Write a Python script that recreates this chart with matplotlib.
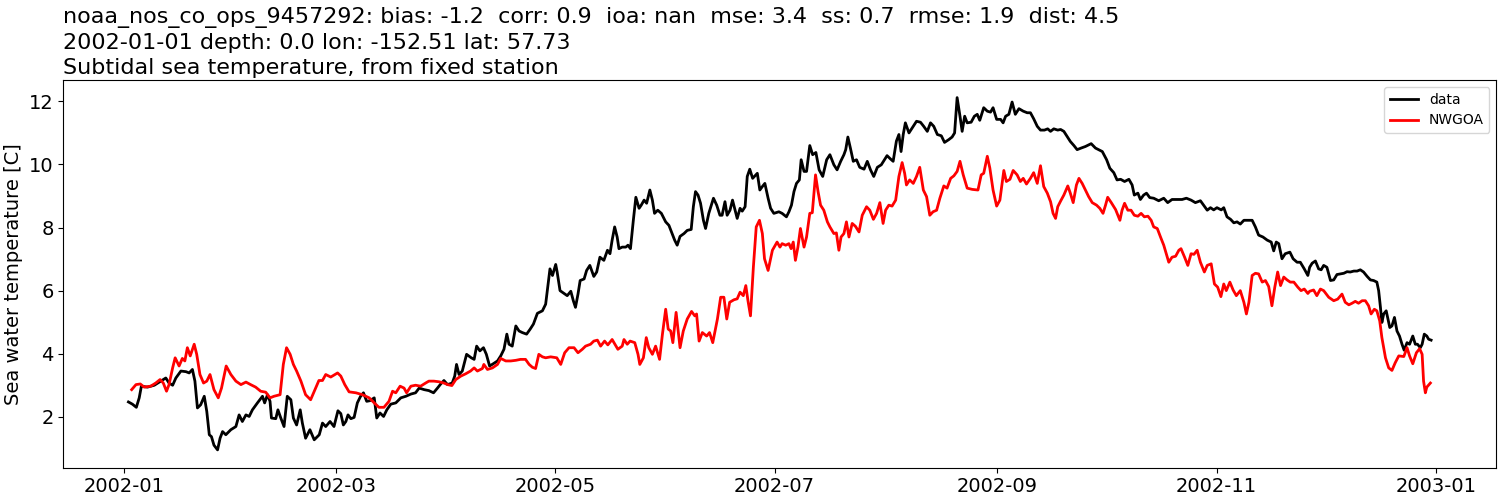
import matplotlib
matplotlib.use("Agg")
import matplotlib.pyplot as plt
import matplotlib.dates as mdates
import numpy as np
import pandas as pd

# station info for the title
station = "noaa_nos_co_ops_9457292"
stats_txt = "bias: -1.2  corr: 0.9  ioa: nan  mse: 3.4  ss: 0.7  rmse: 1.9  dist: 4.5"
info_txt = "2002-01-01 depth: 0.0 lon: -152.51 lat: 57.73"
long_name = "Subtidal sea temperature, from fixed station"
start = "2002-01-01"

# observed (days since start, temperature C)
data_days = [1.2, 2.3, 3.4, 4.2, 4.8, 6.5, 8.4, 10.2, 11.6, 12.5, 13.5, 14.4, 15.8, 17.2, 18.1, 19.0,
             19.7, 20.4, 21.3, 22.3, 23.0, 23.7, 24.3, 25.0, 26.0, 26.7, 27.4, 28.3, 29.7, 31.1, 32.0,
             32.9, 33.9, 34.8, 35.7, 37.1, 38.5, 39.1, 39.9, 40.6, 41.0, 42.2, 42.8, 43.6, 44.5, 45.4,
             46.4, 47.1, 48.0, 49.0, 49.6, 50.5, 51.7, 52.9, 54.3, 55.2, 56.1, 57.3, 58.4, 59.5,
             60.3, 61.0, 61.7, 62.3, 63.1, 64.0, 64.9, 65.8, 66.6, 67.5, 68.4, 69.6, 70.3, 71.2, 72.2,
             73.1, 74.2, 75.6, 77.0, 78.4, 79.8, 81.1, 82.1, 83.5, 84.8, 86.1, 87.2, 88.1, 89.0, 90.0,
             91.3, 92.0, 92.5, 93.2, 94.1, 95.3, 96.6, 97.4, 98.1, 99.0, 100.0, 100.8, 101.7, 102.7,
             103.9, 104.8, 105.7, 106.5, 107.1, 108.0, 109.0, 109.9, 110.8, 112.0, 113.0, 113.9, 115.0,
             116.4, 117.3, 118.0, 118.5, 119.2, 120.1, 120.5, 121.3, 122.4, 123.3, 124.3, 125.0, 125.6,
             126.3, 126.9, 128.0, 128.7, 129.6, 130.7, 131.5, 132.4, 133.5, 134.5, 135.2, 135.8, 136.5,
             137.2, 137.7, 138.6, 139.6, 140.2, 140.9, 141.7, 142.4, 143.3, 143.9, 144.7, 145.4, 146.3,
             147.0, 147.6, 148.5, 149.5, 150.7, 151.6, 152.5, 153.2, 153.9, 154.7, 155.8, 156.7, 157.8,
             158.4, 159.0, 159.7, 160.4, 161.2, 161.8, 162.7, 164.0, 164.9, 165.8, 166.4, 167.2, 167.8,
             168.6, 169.3, 170.0, 170.6, 171.4, 172.0, 172.8, 173.4, 174.1, 174.9, 175.4, 176.2, 176.9,
             177.6, 178.3, 179.2, 179.9, 180.8, 182.2, 183.1, 184.3, 185.0, 185.7, 186.4, 187.1, 187.9,
             188.4, 189.2, 189.9, 190.8, 191.6, 192.5, 193.4, 194.4, 195.5, 196.4, 197.5, 198.4, 199.4,
             200.3, 200.8, 201.4, 202.1, 202.9, 203.8, 204.7, 205.9, 206.8, 207.7, 208.6, 209.6, 210.7,
             211.6, 212.3, 213.3, 214.0, 214.9, 215.6, 216.2, 216.8, 217.4, 218.4, 219.3, 220.5, 221.6,
             222.5, 223.5, 224.4, 225.3, 226.3, 227.4, 228.3, 229.5, 230.4, 231.1, 231.8, 232.6, 233.2,
             233.9, 234.6, 235.7, 236.6, 237.4, 238.1, 239.2, 240.2, 241.1, 241.8, 242.8, 243.9, 244.6,
             245.3, 246.2, 247.1, 248.0, 249.0, 250.2, 251.3, 252.2, 253.1, 254.1, 255.0, 256.1, 257.0,
             257.8, 258.7, 259.8, 260.6, 261.5, 262.4, 263.3, 264.3, 265.2, 266.3, 267.5, 269.1, 270.3,
             272.2, 273.4, 274.3, 275.4, 276.3, 277.3, 278.4, 279.6, 280.5, 281.1, 282.1, 282.8, 283.7,
             284.5, 285.4, 286.5, 287.9, 289.3, 290.4, 291.6, 293.0, 294.4, 295.6, 296.9, 298.1, 299.5,
             300.4, 301.4, 302.3, 303.2, 304.1, 305.3, 306.0, 306.9, 307.9, 308.8, 309.7, 310.6, 311.6,
             312.7, 313.9, 314.8, 315.7, 316.9, 318.1, 319.2, 319.9, 320.6, 321.3, 322.2, 323.1, 324.4,
             325.3, 326.4, 327.3, 328.4, 329.4, 329.9, 330.6, 331.5, 332.4, 333.1, 333.8, 334.7, 335.7,
             336.6, 337.5, 338.4, 339.4, 340.3, 341.2, 342.2, 343.1, 344.0, 344.9, 345.9, 346.8, 347.7,
             348.6, 349.1, 349.6, 350.0, 350.5, 351.2, 352.2, 352.8, 353.5, 354.2, 354.9, 355.6, 356.2,
             357.0, 357.7, 358.6, 359.3, 359.9, 360.7, 361.2, 361.8, 362.5, 363.0, 363.7]
data_vals = [2.47, 2.40, 2.30, 2.6, 2.97, 2.94, 3.0, 3.13, 3.23, 3.07, 3.0, 3.23, 3.45, 3.43, 3.39, 3.5,
             3.13, 2.28, 2.38, 2.65, 2.17, 1.43, 1.37, 1.1, 0.95, 1.32, 1.53, 1.43, 1.59, 1.69, 2.06,
             1.85, 2.06, 2.01, 2.22, 2.44, 2.65, 2.44, 2.7, 2.49, 1.96, 1.94, 2.22, 1.96, 1.69, 2.65,
             2.54, 1.96, 1.74, 2.22, 1.8, 1.32, 1.59, 1.27, 1.43, 1.8, 1.69, 1.85, 1.69, 2.19,
             2.1, 1.74, 1.85, 2.06, 1.94, 1.98, 2.44, 2.65, 2.76, 2.49, 2.51, 2.60, 1.96, 2.12, 2.01,
             2.22, 2.40, 2.44, 2.60, 2.65, 2.72, 2.76, 2.91, 2.86, 2.83, 2.76, 2.91, 3.04, 3.15, 3.02,
             3.07, 3.29, 3.66, 3.34, 3.45, 3.98, 3.87, 3.82, 4.24, 4.09, 4.19, 3.98, 3.61, 3.68,
             3.77, 3.93, 4.14, 4.62, 4.30, 4.24, 4.88, 4.72, 4.67, 4.62, 4.78, 4.94, 5.28,
             5.36, 5.57, 6.21, 6.69, 6.48, 6.83, 6.59, 6.0, 5.91, 5.84, 5.98, 5.68, 5.47,
             5.89, 6.32, 6.37, 6.64, 6.80, 6.45, 6.59, 7.06, 6.96, 7.28, 7.17, 7.60, 8.02,
             7.70, 7.33, 7.38, 7.38, 7.44, 7.33, 8.23, 8.96, 8.61, 8.71, 8.87, 8.77, 9.19,
             8.87, 8.45, 8.55, 8.45, 8.18, 8.07, 7.81, 7.60, 7.44, 7.72, 7.81, 7.91, 7.94,
             8.66, 9.14, 9.03, 8.77, 8.23, 7.97, 8.45, 8.93, 8.71, 8.39, 8.39, 8.82, 8.39,
             8.55, 8.87, 8.55, 8.29, 8.61, 8.52, 8.66, 9.62, 9.85, 9.56, 9.62, 9.72, 9.19,
             9.30, 9.40, 8.93, 8.61, 8.45, 8.50, 8.45, 8.34, 8.50, 8.71, 9.14, 9.40, 9.51,
             10.15, 9.78, 9.78, 10.60, 10.31, 10.38, 9.83, 9.62, 10.15, 10.31, 9.99, 9.83, 10.10,
             10.31, 10.47, 10.87, 10.52, 10.10, 10.15, 9.91, 9.85, 10.10, 9.83, 9.62, 9.91, 9.99,
             10.15, 10.28, 10.17, 10.10, 10.74, 10.95, 10.41, 10.95, 11.32, 11.0, 11.16, 11.37, 11.34,
             11.21, 11.05, 11.32, 11.21, 10.95, 10.91, 10.70, 10.79, 10.87, 11.0, 12.12, 11.53, 11.05,
             11.53, 11.32, 11.34, 11.53, 11.59, 11.40, 11.80, 11.69, 11.66, 11.80, 11.43, 11.43, 11.32,
             11.53, 11.59, 11.98, 11.59, 11.77, 11.69, 11.64, 11.64, 11.45, 11.21, 11.09, 11.09, 11.13,
             11.05, 11.13, 11.09, 11.11, 11.05, 10.89, 10.73, 10.60, 10.47, 10.52, 10.57, 10.66, 10.52,
             10.41, 10.15, 9.88, 9.74, 9.51, 9.53, 9.46, 9.53, 9.35, 9.03, 9.09, 8.89, 9.03,
             9.09, 8.95, 8.93, 8.85, 8.93, 8.79, 8.89, 8.89, 8.89, 8.93, 8.87, 8.79, 8.85,
             8.71, 8.55, 8.63, 8.56, 8.63, 8.56, 8.63, 8.34, 8.26, 8.15, 8.18, 8.11, 8.23,
             8.23, 8.23, 8.02, 7.76, 7.70, 7.60, 7.54, 7.26, 7.54, 7.49, 7.01, 7.17, 7.22,
             7.01, 6.90, 6.90, 6.69, 6.48, 6.74, 6.87, 6.94, 6.69, 6.66, 6.80, 6.74, 6.32,
             6.34, 6.51, 6.53, 6.55, 6.60, 6.59, 6.62, 6.62, 6.66, 6.59, 6.45, 6.34, 6.32,
             6.27, 6.0, 5.47, 4.99, 5.26, 5.36, 4.83, 4.88, 5.15, 4.72, 4.56, 4.30, 4.11,
             4.35, 4.30, 4.56, 4.30, 4.30, 4.19, 4.30, 4.62, 4.56, 4.46, 4.43]

# NWGOA model (days since start, temperature C)
model_days = [2.1, 3.3, 4.5, 5.6, 7.4, 8.8, 10.0, 10.9, 11.8, 12.5, 13.5, 14.2, 15.3, 16.2, 16.9, 17.6,
              18.4, 19.5, 20.2, 21.1, 22.1, 23.0, 23.9, 25.0, 26.2, 27.1, 28.4, 29.7, 31.1, 32.5, 33.9,
              35.2, 36.6, 38.0, 39.4, 40.6, 41.7, 43.4, 44.3, 45.2, 46.2, 47.1, 48.0, 49.2, 50.5, 51.9,
              53.3, 54.2, 55.2, 56.1, 57.5, 59.4, 60.3, 61.4, 62.6, 64.5, 66.3, 68.2, 69.6, 70.9, 72.3,
              73.7, 74.7, 75.6, 76.8, 77.9, 78.6, 79.8, 81.1, 82.5, 83.9, 84.8, 86.2, 87.6, 89.0, 90.0,
              91.2, 92.3, 93.7, 95.0, 96.4, 97.4, 98.3, 99.7, 100.1, 101.1, 102.5, 103.9, 104.8, 106.2,
              107.6, 109.0, 110.3, 111.7, 112.7, 113.6, 114.5, 115.4, 116.4, 117.3, 118.7, 120.4, 121.5,
              122.6, 123.8, 125.2, 126.3, 127.5, 128.4, 129.8, 130.7, 131.7, 132.6, 133.7, 134.6, 135.8,
              137.4, 138.6, 139.1, 140.0, 140.8, 142.1, 143.0, 143.5, 144.5, 145.3, 146.0, 147.0, 147.9,
              149.0, 149.8, 150.7, 151.4, 152.1, 152.7, 153.6, 154.7, 155.6, 156.7, 157.9, 158.8, 159.3,
              160.0, 160.9, 162.1, 162.9, 163.8, 165.1, 166.0, 166.9, 167.7, 168.5, 169.7, 170.6, 171.4,
              172.3, 173.0, 173.6, 174.3, 175.1, 175.9, 176.8, 177.6, 178.2, 179.2, 180.4, 181.7, 182.5,
              183.1, 184.1, 185.0, 185.6, 186.2, 186.8, 187.5, 188.2, 189.2, 189.9, 190.8, 191.5, 192.4,
              193.1, 193.8, 194.7, 195.7, 196.4, 197.5, 198.2, 198.9, 199.5, 200.3, 201.0, 201.7, 202.6,
              203.5, 204.5, 205.4, 206.6, 207.5, 208.5, 209.4, 210.3, 211.2, 211.9, 212.8, 213.7, 214.7,
              215.6, 216.5, 217.2, 217.7, 218.6, 219.6, 220.5, 221.4, 222.4, 223.3, 224.2, 225.1, 226.1,
              227.0, 228.1, 229.0, 230.0, 230.9, 231.8, 232.6, 233.5, 234.6, 236.0, 237.6, 238.5, 239.2,
              240.2, 240.9, 241.8, 242.8, 243.7, 244.8, 245.5, 246.5, 247.4, 248.5, 249.4, 250.2, 251.1,
              252.2, 253.1, 254.1, 255.0, 255.9, 256.9, 257.8, 258.5, 259.2, 259.8, 260.6, 261.5, 262.6,
              263.3, 264.1, 265.0, 265.7, 266.6, 267.5, 268.4, 269.4, 270.6, 271.5, 272.4, 273.1, 273.7,
              274.7, 275.9, 277.1, 277.7, 278.4, 279.3, 280.2, 281.1, 282.1, 283.0, 283.9, 284.9, 285.8,
              286.5, 287.5, 288.4, 289.3, 290.0, 290.7, 291.6, 292.6, 293.5, 294.1, 295.1, 296.0, 296.9,
              297.7, 298.6, 299.5, 300.6, 301.4, 302.5, 303.4, 304.3, 305.2, 306.0, 306.7, 307.7, 308.6,
              309.5, 310.6, 311.6, 312.3, 313.0, 313.9, 314.8, 315.7, 316.7, 317.6, 318.5, 319.4, 320.2,
              321.0, 321.8, 322.7, 323.6, 324.5, 325.5, 326.6, 327.5, 328.4, 329.4, 329.9, 331.0, 331.9,
              332.9, 333.8, 335.2, 336.6, 337.7, 338.9, 339.8, 340.8, 341.7, 342.6, 343.5, 344.5, 345.4,
              346.3, 347.0, 347.9, 348.6, 349.4, 350.0, 351.0, 351.9, 352.8, 353.7, 354.7, 356.1, 357.0,
              357.7, 358.6, 359.6, 360.5, 361.2, 361.6, 362.1, 362.5, 363.5]
model_vals = [2.86, 3.02, 3.04, 2.94, 2.97, 3.07, 3.18, 3.07, 2.81, 3.02, 3.55, 3.87, 3.61, 3.85, 3.77, 4.19,
              3.93, 4.30, 3.98, 3.34, 3.07, 3.13, 3.34, 2.86, 2.6, 2.91, 3.61, 3.34, 3.13, 3.02, 3.10,
              3.02, 2.94, 2.81, 2.78, 2.6, 2.65, 2.70, 3.66, 4.19, 3.98, 3.66, 3.45, 3.13, 2.7, 2.54,
              2.91, 3.15, 3.15, 3.34, 3.26, 3.39, 3.29, 3.02, 2.79, 2.76, 2.70, 2.60, 2.44, 2.30, 2.30,
              2.49, 2.81, 2.76, 2.97, 2.91, 2.76, 2.97, 3.0, 2.97, 3.07, 3.13, 3.13, 3.11, 3.07, 3.02,
              2.99, 3.18, 3.29, 3.36, 3.45, 3.55, 3.45, 3.53, 3.66, 3.50, 3.55, 3.66, 3.85, 3.77,
              3.77, 3.79, 3.82, 3.82, 3.66, 3.57, 3.53, 3.98, 3.90, 3.87, 3.90, 3.87, 3.66,
              4.03, 4.19, 4.19, 4.03, 4.14, 4.24, 4.30, 4.40, 4.43, 4.24, 4.40, 4.28, 4.45,
              4.14, 4.24, 4.45, 4.30, 4.40, 4.35, 3.98, 3.66, 3.87, 4.51, 4.19, 3.98, 4.24,
              3.82, 4.62, 5.41, 4.78, 4.72, 4.35, 5.31, 4.19, 4.72, 5.10, 5.34, 5.20, 5.26,
              4.40, 4.67, 4.56, 4.67, 4.35, 5.10, 5.79, 5.79, 5.10, 5.63, 5.71, 5.74, 5.95,
              5.84, 6.16, 5.68, 5.20, 6.74, 8.02, 8.23, 7.81, 7.01, 6.64, 7.28, 7.54, 7.38,
              7.49, 7.44, 7.49, 7.33, 7.54, 6.96, 7.38, 7.97, 7.38, 7.70, 8.45, 8.47, 9.67,
              9.14, 8.71, 8.55, 8.18, 8.02, 7.81, 7.83, 7.28, 7.70, 7.81, 8.18, 7.70, 8.13,
              8.04, 7.86, 8.39, 8.66, 8.55, 8.26, 8.45, 8.79, 8.13, 8.55, 8.71, 8.68, 8.87,
              9.62, 10.06, 9.72, 9.35, 9.51, 9.40, 9.62, 9.91, 9.19, 8.98, 8.39, 8.50, 8.55,
              8.93, 9.32, 9.25, 9.56, 9.64, 9.78, 10.10, 9.67, 9.25, 9.21, 9.19, 9.67, 9.72,
              10.26, 9.89, 9.19, 8.68, 8.87, 9.81, 9.46, 9.53, 9.81, 9.67, 9.46, 9.56, 9.38,
              9.56, 9.74, 9.40, 9.96, 9.30, 9.09, 8.82, 8.45, 8.29, 8.66, 8.84, 9.03, 9.32,
              9.09, 8.79, 9.35, 9.56, 9.40, 9.19, 8.98, 8.79, 8.71, 8.61, 8.45, 8.71, 8.96,
              8.79, 8.57, 8.23, 8.55, 8.77, 8.55, 8.55, 8.39, 8.36, 8.45, 8.34, 8.36, 8.23,
              8.02, 7.97, 7.70, 7.44, 7.17, 6.90, 7.06, 7.09, 7.28, 7.33, 7.06, 6.80, 7.17,
              7.15, 7.28, 6.90, 6.59, 6.80, 6.85, 6.21, 6.11, 5.81, 6.21, 6.0, 6.27, 6.02,
              5.84, 6.0, 5.63, 5.26, 5.63, 6.48, 6.55, 6.53, 6.27, 6.32, 6.13, 5.52, 6.11,
              6.59, 6.16, 6.43, 6.34, 6.27, 6.27, 6.11, 6.0, 6.05, 5.91, 5.98, 6.02, 5.84,
              6.05, 6.0, 5.79, 5.68, 5.73, 5.89, 5.63, 5.55, 5.60, 5.66, 5.60, 5.68, 5.68,
              5.52, 5.26, 5.41, 5.36, 5.04, 4.51, 3.87, 3.55, 3.47, 3.71, 3.93, 3.91, 4.19,
              3.93, 3.68, 4.03, 4.16, 3.98, 3.13, 2.76, 2.94, 3.07]

t0 = pd.Timestamp(start)
data_t = t0 + pd.to_timedelta(data_days, unit="D")
model_t = t0 + pd.to_timedelta(model_days, unit="D")

fig, ax = plt.subplots(figsize=(15, 5), dpi=100)
ax.plot(data_t, data_vals, color="k", lw=2, label="data")
ax.plot(model_t, model_vals, color="r", lw=2, label="NWGOA")

ax.set_title(f"{station}: {stats_txt}\n{info_txt}\n{long_name}", loc="left", fontsize=16,
             linespacing=1.32, pad=4)
ax.set_ylabel("Sea water temperature [C]", fontsize=14)
ax.xaxis.set_major_locator(mdates.MonthLocator(bymonth=[1, 3, 5, 7, 9, 11]))
ax.xaxis.set_major_formatter(mdates.DateFormatter("%Y-%m"))
ax.tick_params(labelsize=14)
ax.legend(loc="upper right")

plt.subplots_adjust(left=0.0422, right=0.9975, top=0.84, bottom=0.065)
plt.savefig("out.png")
